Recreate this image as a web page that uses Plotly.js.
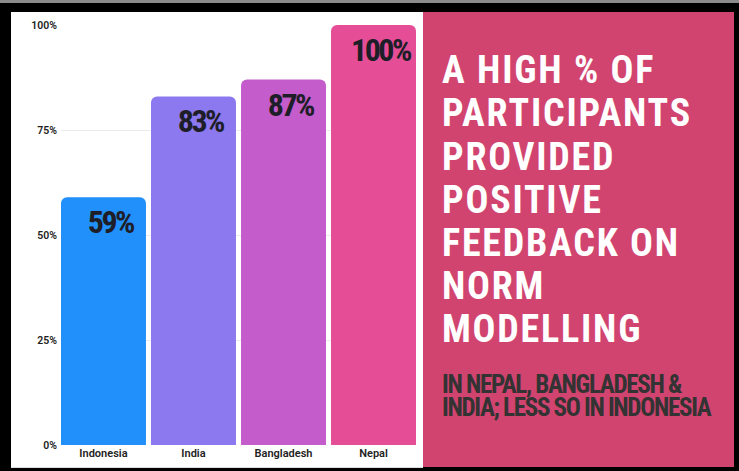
<!DOCTYPE html>
<html>
<head>
<meta charset="utf-8">
<script src="https://cdn.plot.ly/plotly-3.0.1.min.js"></script>
<style>html,body{margin:0;padding:0;background:#000;}#chart{width:739px;height:471px;}</style>
</head>
<body>
<div id="chart"></div>
<script>
// ---- data ----
var countries = ["Indonesia", "India", "Bangladesh", "Nepal"];
var positivePct = [59, 83, 87, 100];
var barColors = ["#2290FB", "#8C79EF", "#C45CCB", "#E54E96"];
var yTickVals = [0, 25, 50, 75, 100];
var yTickText = ["0%", "25%", "50%", "75%", "100%"];
var headingLines = ["A HIGH % OF", "PARTICIPANTS", "PROVIDED", "POSITIVE", "FEEDBACK ON", "NORM", "MODELLING"];
var subLines = ["IN NEPAL, BANGLADESH &", "INDIA; LESS SO IN INDONESIA"];

var W = 739, H = 471;
function px(x) { return x / W; }
function py(y) { return (H - y) / H; }

var condensed = "'Roboto Condensed', 'Liberation Sans Narrow', 'DejaVu Sans Condensed', Roboto, sans-serif";

var trace = {
  type: "bar",
  x: countries,
  y: positivePct,
  marker: { color: barColors, line: { width: 0 } },
  hoverinfo: "skip"
};

var annotations = [];
var spacing = [];
countries.forEach(function (c, i) {
  annotations.push({
    xref: "x", yref: "y", x: c, y: positivePct[i],
    text: positivePct[i] + "%", showarrow: false,
    xanchor: "center", yanchor: "top", xshift: 7, yshift: -4,
    font: { family: condensed, size: 32, color: "#1E1E28", weight: 700 }
  });
  spacing.push(["-2.5px", false]);
});
headingLines.forEach(function (t, i) {
  annotations.push({
    xref: "paper", yref: "paper", x: px(440), y: py(70.5 + 43 * i),
    text: t, showarrow: false, xanchor: "left", yanchor: "middle",
    font: { family: condensed, size: 38, color: "#FFFFFF", weight: 700 }
  });
  spacing.push(["1.8px", true]);
});
subLines.forEach(function (t, i) {
  annotations.push({
    xref: "paper", yref: "paper", x: px(440), y: py(384 + 23 * i),
    text: t, showarrow: false, xanchor: "left", yanchor: "middle",
    font: { family: condensed, size: 25, color: "#333333", weight: 700 }
  });
  spacing.push(["-1.3px", true]);
});

var layout = {
  width: W, height: H,
  margin: { l: 0, r: 0, t: 0, b: 0, pad: 0 },
  paper_bgcolor: "#000000",
  plot_bgcolor: "rgba(0,0,0,0)",
  showlegend: false,
  bargap: 0.056,
  barcornerradius: 6,
  xaxis: {
    domain: [px(61), px(416)],
    range: [-0.472, 3.472],
    automargin: false,
    showgrid: false, zeroline: false, showline: false, ticks: "",
    tickfont: { family: "Roboto, sans-serif", size: 11, color: "#222222", weight: 600 },
    fixedrange: true
  },
  yaxis: {
    domain: [py(445), py(25)],
    range: [0, 100],
    automargin: false,
    tickvals: yTickVals, ticktext: yTickText,
    showgrid: true, gridcolor: "#EBEBEB", gridwidth: 1,
    zeroline: false, showline: false, ticks: "",
    ticklabelstandoff: 3,
    tickfont: { family: "Roboto, sans-serif", size: 10.5, color: "#222222", weight: 600 },
    fixedrange: true
  },
  shapes: [
    { type: "rect", xref: "paper", yref: "paper", x0: 0, x1: 1, y0: py(3), y1: 1, fillcolor: "#8C8C8C", line: { width: 0 }, layer: "below" },
    { type: "rect", xref: "paper", yref: "paper", x0: px(11), x1: px(423), y0: py(468), y1: py(12), fillcolor: "#DDDDDD", line: { width: 0 }, layer: "below" },
    { type: "rect", xref: "paper", yref: "paper", x0: px(11), x1: px(423), y0: py(467), y1: py(12), fillcolor: "#FFFFFF", line: { width: 0 }, layer: "below" },
    { type: "rect", xref: "paper", yref: "paper", x0: px(423), x1: px(734), y0: py(467), y1: py(12), fillcolor: "#D14470", line: { width: 0 }, layer: "below" }
  ],
  annotations: annotations
};

Plotly.newPlot("chart", [trace], layout, { displayModeBar: false, staticPlot: true }).then(function (gd) {
  spacing.forEach(function (s, i) {
    var t = gd.querySelector('g.annotation[data-index="' + i + '"] text');
    if (!t) return;
    if (s[1]) {
      var bb = t.getBBox();
      t.setAttribute("text-anchor", "start");
      t.setAttribute("x", bb.x);
    }
    t.style.letterSpacing = s[0];
  });
});
</script>
</body>
</html>
